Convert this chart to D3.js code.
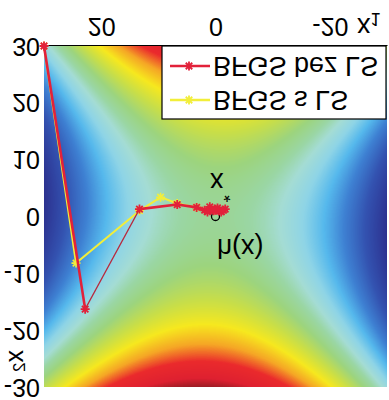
<!DOCTYPE html>
<html>
<head>
<meta charset="utf-8">
<script src="https://cdn.jsdelivr.net/npm/d3@7"></script>
<style>
  body { margin: 0; background: #fff; }
  svg { display: block; font-family: "Liberation Sans", Arial, sans-serif; }
</style>
</head>
<body>
<div id="chart"></div>
<script>
// axes
const x1Ticks = [20, 0, -20];
const x2Ticks = [-30, -20, -10, 0, 10, 20, 30];
const x1Domain = [30, -30];
const x2Domain = [-30, 30];

// iterates, [x1, x2]
const bezLS = [[30, 30], [22.8, -16.3], [13.3, 1.3], [6.7, 2.1], [3.3, 1.6],
  [1.9, 1.1], [1.0, 1.7], [0.35, 1.0], [-0.35, 1.5], [-1.0, 0.8], [-1.7, 1.3],
  [-0.7, 1.0], [0.7, 1.3], [1.4, 0.8], [0, 1.1], [-1.4, 1.1], [0.35, 1.1]];
const sLS = [[30, 30], [24.4, -8.2], [13.3, 1.0], [9.6, 3.4], [6.7, 2.3],
  [3.3, 1.6], [1.0, 1.2], [0.3, 1.1]];
const xStar = [0, 0];
const seriesNames = ["BFGS s LS", "BFGS bez LS"];

// surface h(x) = x2^2 - x1^2 + hc*x1*x2
const hc = -0.2;
const hRange = [-909, 909];
const mapStops = [0, 0.12, 0.22, 0.3, 0.37, 0.43, 0.48, 0.54, 0.62, 0.7, 0.78, 0.86, 0.95, 1];
const mapColors = ["#2c318f", "#3352b0", "#3e80d2", "#55b8ec", "#8ed4e6", "#a4dcd4",
  "#9ad6a4", "#9cd47e", "#c8de48", "#f6e81e", "#f5a625", "#ea2a2c", "#de2030", "#9a1c24"];

const W = 389, H = 400;
const svg = d3.select("#chart").append("svg").attr("width", W).attr("height", H);
// the whole picture is mirrored top to bottom
const g = svg.append("g").attr("transform", `translate(0,${H}) scale(1,-1)`);

const x = d3.scaleLinear().domain(x1Domain).range([44, 387]);
const y = d3.scaleLinear().domain(x2Domain).range([13, 354]);

// heatmap
const cw = 343, ch = 341;
const canvas = document.createElement("canvas");
canvas.width = cw; canvas.height = ch;
const ctx = canvas.getContext("2d");
const img = ctx.createImageData(cw, ch);
const color = d3.scaleLinear()
  .domain(mapStops.map(s => hRange[0] + s * (hRange[1] - hRange[0])))
  .range(mapColors)
  .clamp(true);
const lut = d3.range(512).map(i => d3.rgb(color(hRange[0] + i / 511 * (hRange[1] - hRange[0]))));
for (let j = 0; j < ch; j++) {
  const v2 = y.invert(13 + j + 0.5);
  for (let i = 0; i < cw; i++) {
    const v1 = x.invert(44 + i + 0.5);
    const h = v2 * v2 - v1 * v1 + hc * v1 * v2;
    let k = Math.round((h - hRange[0]) / (hRange[1] - hRange[0]) * 511);
    k = Math.max(0, Math.min(511, k));
    const c = lut[k], p = (j * cw + i) * 4;
    img.data[p] = c.r; img.data[p + 1] = c.g; img.data[p + 2] = c.b; img.data[p + 3] = 255;
  }
}
ctx.putImageData(img, 0, 0);
g.append("image")
  .attr("x", 44).attr("y", 13)
  .attr("width", cw).attr("height", ch)
  .attr("preserveAspectRatio", "none")
  .attr("href", canvas.toDataURL());

// axes
const xAxis = g.append("g")
  .attr("transform", "translate(0,354)")
  .call(d3.axisBottom(x).tickValues(x1Ticks).tickSize(0).tickSizeOuter(0).tickPadding(10)
    .tickFormat(d => String(d)));
xAxis.select(".domain").attr("stroke", "#000").attr("stroke-width", 1.2);
xAxis.selectAll("text").attr("font-size", 25).attr("fill", "#000")
  .attr("font-family", "Liberation Sans, Arial, sans-serif");

const yAxis = g.append("g")
  .attr("transform", "translate(44,0)")
  .call(d3.axisLeft(y).tickValues(x2Ticks).tickSize(0).tickPadding(4)
    .tickFormat(d => String(d)));
yAxis.select(".domain").remove();
yAxis.selectAll("text").attr("font-size", 25).attr("fill", "#000")
  .attr("font-family", "Liberation Sans, Arial, sans-serif");

// axis labels
const lab1 = g.append("text").attr("x", 357).attr("y", 382).attr("font-size", 27);
lab1.append("tspan").text("x");
lab1.append("tspan").attr("font-size", 18).attr("dy", 5).text("1");

const lab2 = g.append("text").attr("transform", "translate(23,50) rotate(-90)").attr("font-size", 25);
lab2.append("tspan").text("x");
lab2.append("tspan").attr("font-size", 17).attr("dy", 2).text("2");

// optimum
g.append("circle")
  .attr("cx", x(xStar[0])).attr("cy", y(xStar[1]))
  .attr("r", 4).attr("fill", "none").attr("stroke", "#000").attr("stroke-width", 1.3);

const starLab = g.append("text").attr("x", 210).attr("y", 227).attr("font-size", 27);
starLab.append("tspan").text("x");
starLab.append("tspan").attr("font-size", 18).attr("dy", -16).text("*");

g.append("text").attr("x", 217).attr("y", 161).attr("font-size", 27).text("h(x)");

// paths
function star(r) {
  const a = r * 0.72;
  return `M${-r},0H${r}M0,${-r}V${r}M${-a},${-a}L${a},${a}M${-a},${a}L${a},${-a}`;
}
const line = d3.line().x(d => x(d[0])).y(d => y(d[1]));

g.append("path").datum(sLS)
  .attr("d", line).attr("fill", "none")
  .attr("stroke", "#f2ee3a").attr("stroke-width", 2);
g.append("g").selectAll("path").data(sLS).join("path")
  .attr("transform", d => `translate(${x(d[0])},${y(d[1])})`)
  .attr("d", star(4.5)).attr("stroke", "#f2ee3a").attr("stroke-width", 1.6);

const segs = d3.pairs(bezLS);
g.append("g").selectAll("path").data(segs).join("path")
  .attr("d", d => line(d)).attr("fill", "none")
  .attr("stroke", (d, i) => i === 1 ? "#b8283c" : "#e2213a")
  .attr("stroke-width", (d, i) => i === 1 ? 1.2 : 2.6);
g.append("g").selectAll("path").data(bezLS).join("path")
  .attr("transform", d => `translate(${x(d[0])},${y(d[1])})`)
  .attr("d", star(4.5)).attr("stroke", "#e2213a").attr("stroke-width", 1.8);

// legend
const legend = g.append("g");
legend.append("rect")
  .attr("x", 162).attr("y", 281).attr("width", 224).attr("height", 73)
  .attr("fill", "#fff").attr("stroke", "#000").attr("stroke-width", 1.2);
const legColors = ["#f2ee3a", "#e2213a"];
const legY = [300, 334];
seriesNames.forEach((name, i) => {
  legend.append("line")
    .attr("x1", 170).attr("x2", 210).attr("y1", legY[i]).attr("y2", legY[i])
    .attr("stroke", legColors[i]).attr("stroke-width", 2.4);
  legend.append("path")
    .attr("transform", `translate(189,${legY[i]})`)
    .attr("d", star(4.5)).attr("stroke", legColors[i]).attr("stroke-width", 1.8);
  legend.append("text")
    .attr("x", 213).attr("y", legY[i] + 9.5)
    .attr("font-size", 27).attr("fill", "#000")
    .text(name);
});
</script>
</body>
</html>
